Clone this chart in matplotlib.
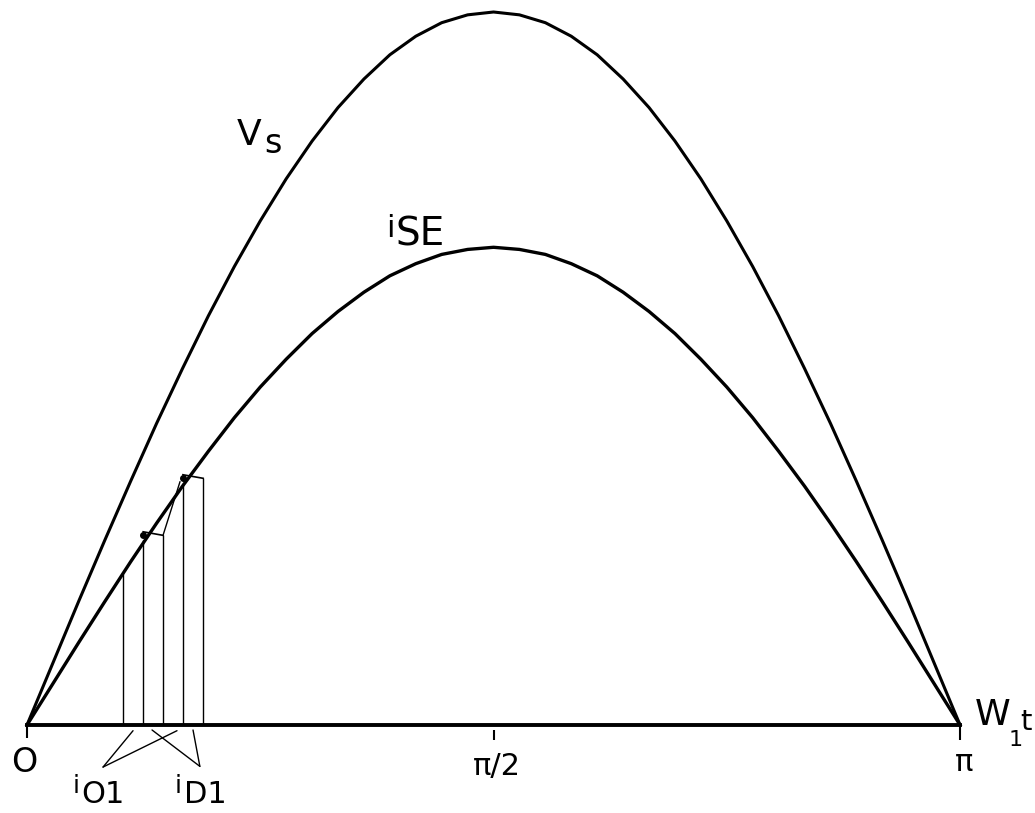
import numpy as np
import matplotlib.pyplot as plt

# angle of the read points (degrees) and the two waveforms
angle_deg = [0, 5, 10, 15, 20, 25, 30, 35, 40, 45, 50, 55, 60, 65, 70, 75, 80, 85, 90,
             95, 100, 105, 110, 115, 120, 125, 130, 135, 140, 145, 150, 155, 160, 165, 170, 175, 180]
vs = [0, 0.087, 0.174, 0.259, 0.342, 0.423, 0.500, 0.574, 0.643, 0.707, 0.766, 0.819, 0.866,
      0.906, 0.940, 0.966, 0.985, 0.996, 1.000, 0.996, 0.985, 0.966, 0.940, 0.906, 0.866,
      0.819, 0.766, 0.707, 0.643, 0.574, 0.500, 0.423, 0.342, 0.259, 0.174, 0.087, 0]
i_se = [0, 0.058, 0.116, 0.173, 0.229, 0.283, 0.335, 0.384, 0.431, 0.474, 0.513, 0.549, 0.580,
        0.607, 0.630, 0.647, 0.660, 0.667, 0.670, 0.667, 0.660, 0.647, 0.630, 0.607, 0.580,
        0.549, 0.513, 0.474, 0.431, 0.384, 0.335, 0.283, 0.229, 0.173, 0.116, 0.058, 0]

# switching pulses near the start (rad) and their heights
pulse_x = [0.323, 0.391, 0.458, 0.525, 0.593]
pulse_top = [0.212, 0.26, 0.266, 0.339, 0.347]
flat_tops = [(0.391, 0.271, 0.458, 0.266), (0.525, 0.351, 0.593, 0.346)]

tick_pos = [0, np.pi / 2, np.pi]

x = np.radians(angle_deg)

fig = plt.figure(figsize=(10.35, 8.13), dpi=100)
ax = fig.add_axes([0, 0, 1, 1])
ax.set_xlim(-27 / 297, 1008 / 297)
ax.set_ylim(-88 / 713, 725 / 713)
ax.axis('off')

ax.plot(x, vs, color='black', linewidth=2.2, solid_joinstyle='round')
ax.plot(x, i_se, color='black', linewidth=2.4, solid_joinstyle='round')
ax.plot([0, np.pi], [0, 0], color='black', linewidth=2.8)

# ticks below the axis
ax.vlines(tick_pos, [0, -0.007, 0], [-0.018, -0.021, -0.021], color='black', linewidth=1.5)

# pulses
ax.vlines(pulse_x, 0, pulse_top, color='black', linewidth=1.0)
for x0, y0, x1, y1 in flat_tops:
    ax.plot([x0, x1], [y0, y1], color='black', linewidth=1.2)
    ax.plot(x0, y0 - 0.004, 'o', color='black', markersize=4)
ax.plot([pulse_x[2], pulse_x[3] - 0.01], [flat_tops[0][3], flat_tops[1][1] - 0.01],
        color='black', linewidth=1.0)

# pointer lines
ann = dict(arrowstyle='-', color='black', linewidth=1.0, shrinkA=0, shrinkB=0)
for tx in [0.357, 0.505]:
    ax.annotate('', xy=(tx, -0.008), xytext=(0.256, -0.059), arrowprops=ann)
for tx in [0.421, 0.559]:
    ax.annotate('', xy=(tx, -0.007), xytext=(0.582, -0.058), arrowprops=ann)

fkw = dict(color='black', family='DejaVu Sans')
ax.text(-0.01, -0.052, 'O', fontsize=24, ha='center', va='center', **fkw)
ax.text(np.pi / 2 + 0.01, -0.058, 'π/2', fontsize=22, ha='center', va='center', **fkw)
ax.text(np.pi + 0.015, -0.052, 'π', fontsize=22, ha='center', va='center', **fkw)

ax.text(0.152, -0.095, 'i', fontsize=18, ha='left', va='baseline', **fkw)
ax.text(0.182, -0.109, 'O1', fontsize=22, ha='left', va='baseline', **fkw)
ax.text(0.498, -0.095, 'i', fontsize=18, ha='left', va='baseline', **fkw)
ax.text(0.529, -0.109, 'D1', fontsize=22, ha='left', va='baseline', **fkw)

ax.text(0.707, 0.813, 'V', fontsize=26, ha='left', va='baseline', **fkw)
ax.text(0.798, 0.802, 's', fontsize=24, ha='left', va='baseline', **fkw)
ax.text(1.209, 0.684, 'i', fontsize=22, ha='left', va='baseline', **fkw)
ax.text(1.242, 0.673, 'SE', fontsize=28, ha='left', va='baseline', **fkw)

ax.text(3.19, 0.0, 'W', fontsize=26, ha='left', va='baseline', **fkw)
ax.text(3.305, -0.03, '1', fontsize=16, ha='left', va='baseline', **fkw)
ax.text(3.345, -0.007, 't', fontsize=21, ha='left', va='baseline', **fkw)

fig.savefig('out.png', dpi=100)
